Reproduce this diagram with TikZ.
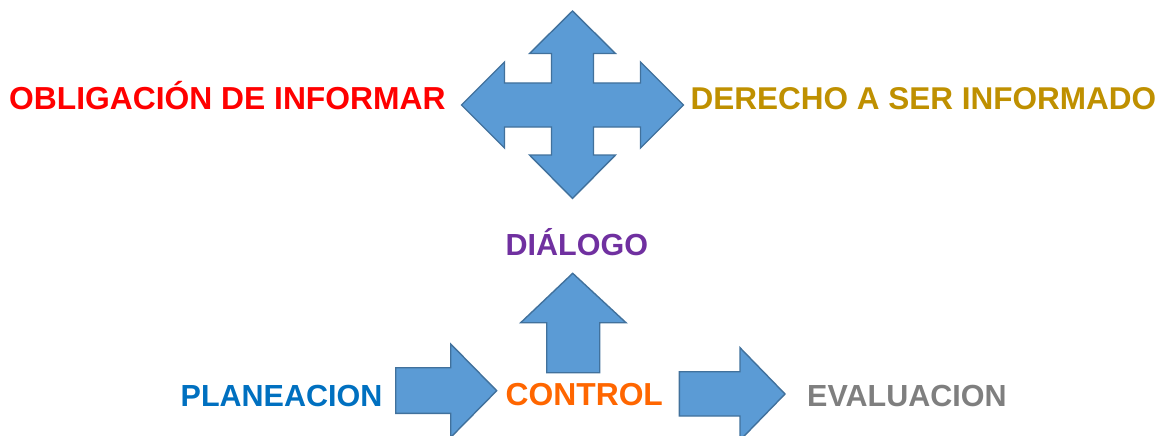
\documentclass[tikz,border=0pt]{standalone}
\usepackage{fontspec}
\setmainfont{Liberation Sans}
\definecolor{arrowfill}{HTML}{5B9BD5}
\definecolor{arrowline}{HTML}{41719C}
\definecolor{cred}{HTML}{FF0000}
\definecolor{cgold}{HTML}{BF9000}
\definecolor{cpurple}{HTML}{7030A0}
\definecolor{cblue}{HTML}{0070C0}
\definecolor{corange}{HTML}{FF6600}
\definecolor{cgray}{HTML}{7F7F7F}
\tikzset{
  blockarrow/.style={fill=arrowfill, draw=arrowline, line width=1.4pt, line join=miter},
  label/.style={inner sep=0pt, anchor=base west, font=\fontsize{30.5}{32}\selectfont\bfseries},
  biglabel/.style={label, font=\fontsize{31.8}{33}\selectfont\bfseries}
}
\begin{document}
\begin{tikzpicture}[x=1pt,y=-1pt]
\useasboundingbox (0,0) rectangle (1163,436);
% four-way arrow
\draw[blockarrow] (572.5,11) -- (615.5,53.5) -- (593.5,53.5) -- (593.5,83) -- (640.5,83) -- (640.5,62) -- (683.5,105) -- (640.5,148) -- (640.5,127) -- (593.5,127) -- (593.5,155) -- (615.5,155) -- (572.5,198.5) -- (529.5,155) -- (551.5,155) -- (551.5,127) -- (504.5,127) -- (504.5,148) -- (461.5,105) -- (504.5,62) -- (504.5,83) -- (551.5,83) -- (551.5,53.5) -- (529.5,53.5) -- cycle;
% right arrow 1
\draw[blockarrow] (395.7,367.7) -- (450.7,367.7) -- (450.7,344) -- (496.7,390.7) -- (450.7,437.4) -- (450.7,413.3) -- (395.7,413.3) -- cycle;
% up arrow
\draw[blockarrow] (572.7,273.3) -- (626,322.7) -- (599.7,322.7) -- (599.7,372.7) -- (546.7,372.7) -- (546.7,322.7) -- (520.7,322.7) -- cycle;
% right arrow 2
\draw[blockarrow] (679.3,371.7) -- (740,371.7) -- (740,347.7) -- (785,394) -- (740,440.3) -- (740,416) -- (679.3,416) -- cycle;
% labels
\node[biglabel, text=cred] (oblig) at (9,110) {OBLIGACIÓN DE INFORMAR};
\node[label, text=cgold, font=\fontsize{31.5}{33}\selectfont\bfseries] (derecho) at (690.5,110) {DERECHO A SER INFORMADO};
\node[label, text=cpurple] (dialogo) at (505.5,255.5) {DIÁLOGO};
\node[label, text=cblue] (plan) at (180.5,406) {PLANEACION};
\node[biglabel, text=corange] (control) at (505.5,405.5) {CONTROL};
\node[label, text=cgray] (eval) at (807,406) {EVALUACION};
\end{tikzpicture}
\end{document}
